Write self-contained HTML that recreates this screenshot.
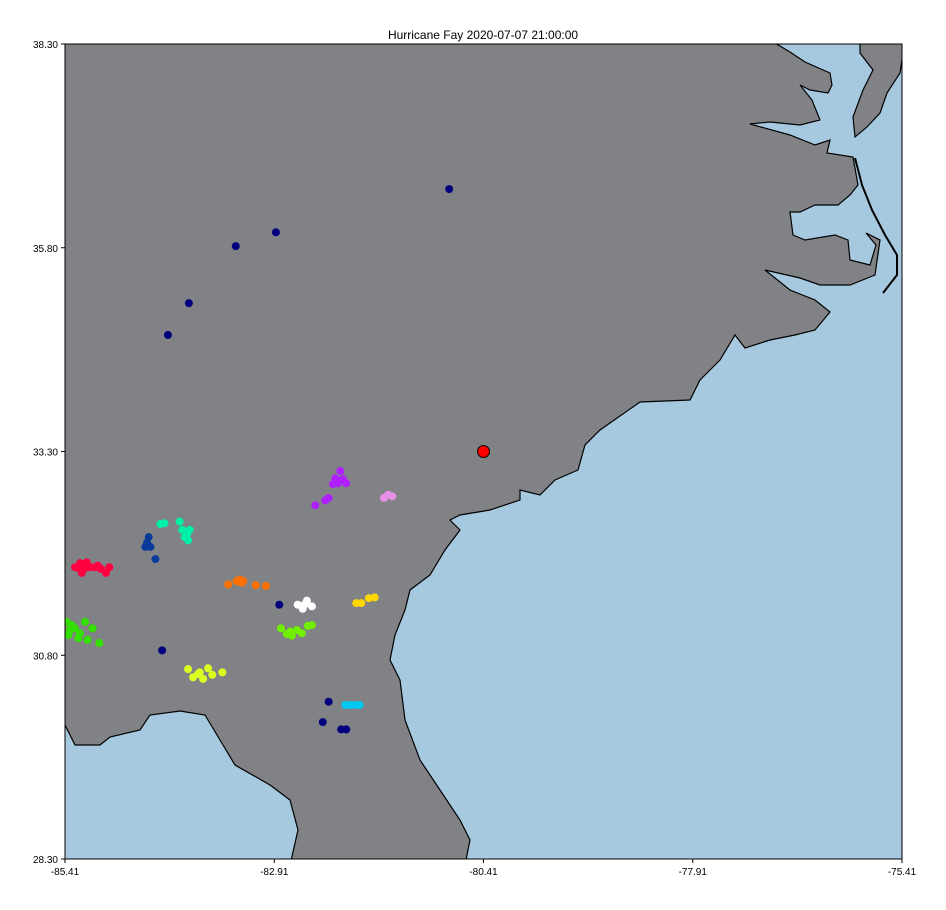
<!DOCTYPE html>
<html><head><meta charset="utf-8"><style>
body{margin:0;background:#fff;font-family:"Liberation Sans",sans-serif}
svg text{font-family:"Liberation Sans",sans-serif}
</style></head><body>
<svg id="c" width="946" height="905">
<defs><clipPath id="clip"><rect x="65" y="44" width="837" height="815"/></clipPath></defs>
<text x="483" y="39" text-anchor="middle" font-size="12">Hurricane Fay 2020-07-07 21:00:00</text>
<g clip-path="url(#clip)">
<rect x="65" y="44" width="837" height="815" fill="#a6c9df"/>
<path fill="#808285" stroke="#000" stroke-width="1.2" d="M60,40 L770,40 L790,52 L805,62 L830,73 L832,85 L828,93 L810,90 L800,85 L812,100 L820,120 L800,125 L770,122 L750,124 L790,135 L815,145 L830,140 L827,153 L853,157 L858,185 L850,195 L838,205 L815,205 L800,212 L790,212 L793,235 L805,240 L835,235 L848,240 L850,260 L870,265 L876,245 L866,233 L880,240 L875,275 L850,285 L820,285 L800,278 L765,270 L790,290 L815,300 L830,312 L815,330 L795,335 L770,340 L745,348 L735,335 L720,360 L700,380 L690,400 L640,402 L600,430 L585,445 L578,470 L555,480 L540,495 L520,490 L520,500 L490,510 L460,515 L450,520 L460,530 L445,550 L430,575 L410,590 L405,610 L395,635 L390,660 L400,680 L405,720 L420,760 L440,790 L460,820 L470,840 L465,865 L290,865 L298,830 L290,800 L270,785 L235,765 L220,740 L205,715 L180,711 L150,715 L140,730 L110,737 L100,745 L75,745 L65,725 L60,725 Z"/>
<path fill="#808285" stroke="#000" stroke-width="1.2" d="M860,40 L905,40 L900,73 L887,93 L880,113 L867,127 L855,137 L853,117 L863,90 L873,70 L860,53 Z"/>
<path fill="none" stroke="#000" stroke-width="2" d="M855,158 L862,185 L872,210 L885,235 L897,255 L897,275 L883,293"/>
<g id="pts"></g>
</g>
<rect x="65" y="44" width="837" height="815" fill="none" stroke="#000" stroke-width="1"/>
<g id="axes"></g>
</svg>
<script>
const xTicks=[-85.41,-82.91,-80.41,-77.91,-75.41];
const yTicks=[28.30,30.80,33.30,35.80,38.30];
const navyLon=[-80.82,-82.89,-83.37,-83.93,-84.18,-82.85,-84.25,-82.26,-82.33,-82.11,-82.05];
const navyLat=[36.52,35.99,35.82,35.12,34.73,31.42,30.86,30.23,29.98,29.89,29.89];
const redLon=[-85.29,-85.23,-85.21,-85.15,-85.17,-85.05,-85.02,-84.98,-84.92,-84.88,-85.25,-85.11];
const redLat=[31.88,31.93,31.81,31.94,31.87,31.88,31.90,31.86,31.81,31.88,31.87,31.88];
const greenLon=[-85.39,-85.35,-85.29,-85.23,-85.17,-85.08,-85.00,-85.37,-85.25,-85.14,-85.33];
const greenLat=[31.21,31.11,31.13,31.07,31.21,31.13,30.95,31.05,31.01,30.99,31.17];
const dblueLon=[-84.41,-84.45,-84.39,-84.43,-84.33];
const dblueLat=[32.25,32.13,32.13,32.18,31.98];
const aquaLon=[-84.27,-84.22,-84.04,-84.01,-83.95,-83.92,-83.94,-83.98];
const aquaLat=[32.41,32.42,32.44,32.34,32.29,32.34,32.21,32.25];
const orangeLon=[-83.46,-83.36,-83.32,-83.28,-83.13,-83.01,-83.30];
const orangeLat=[31.67,31.71,31.73,31.71,31.66,31.65,31.69];
const yelgLon=[-83.94,-83.88,-83.82,-83.76,-83.70,-83.65,-83.53,-83.80];
const yelgLat=[30.63,30.53,30.57,30.51,30.64,30.56,30.59,30.59];
const limeLon=[-82.83,-82.76,-82.70,-82.64,-82.58,-82.51,-82.46,-82.72];
const limeLat=[31.13,31.06,31.04,31.11,31.07,31.16,31.17,31.09];
const whiteLon=[-82.63,-82.57,-82.52,-82.46,-82.55];
const whiteLat=[31.42,31.37,31.47,31.40,31.42];
const yellowLon=[-81.93,-81.87,-81.78,-81.71];
const yellowLat=[31.44,31.44,31.50,31.51];
const cyanLon=[-82.06,-82.00,-81.94,-81.89];
const cyanLat=[30.19,30.19,30.19,30.19];
const purpleLon=[-82.42,-82.30,-82.26,-82.21,-82.18,-82.12,-82.09,-82.05,-82.15];
const purpleLat=[32.64,32.70,32.73,32.90,32.97,33.06,32.96,32.91,32.91];
const violetLon=[-81.60,-81.55,-81.50];
const violetLat=[32.73,32.77,32.75];
const stormLon=[-80.41];
const stormLat=[33.30];

const X=v=>65+(v+85.41)/10*837;
const Y=v=>859-(v-28.30)/10*815;
const NS="http://www.w3.org/2000/svg";
const pts=document.getElementById('pts');
const axes=document.getElementById('axes');
function mk(t,a){const e=document.createElementNS(NS,t);for(const k in a)e.setAttribute(k,a[k]);return e;}
function series(lons,lats,color,name){
  for(let i=0;i<lons.length;i++){
    const c=mk('circle',{cx:X(lons[i]),cy:Y(lats[i]),r:4,fill:color});
    
    
    pts.appendChild(c);
  }
}
series(navyLon,navyLat,'#00007f','navy-point');
series(redLon,redLat,'#ff0040','red-cluster-point');
series(greenLon,greenLat,'#33e000','green-cluster-point');
series(dblueLon,dblueLat,'#0a3a9a','darkblue-cluster-point');
series(aquaLon,aquaLat,'#00f0a8','aqua-cluster-point');
series(orangeLon,orangeLat,'#ff7000','orange-cluster-point');
series(yelgLon,yelgLat,'#d8ff20','yellowgreen-cluster-point');
series(limeLon,limeLat,'#70f000','lime-cluster-point');
series(whiteLon,whiteLat,'#ffffff','white-cluster-point');
series(yellowLon,yellowLat,'#ffd700','yellow-cluster-point');
series(cyanLon,cyanLat,'#00c8f0','cyan-cluster-point');
series(purpleLon,purpleLat,'#b020ff','purple-cluster-point');
series(violetLon,violetLat,'#e890e8','violet-cluster-point');
for(let i=0;i<stormLon.length;i++){
  const c=mk('circle',{cx:X(stormLon[i]),cy:Y(stormLat[i]),r:6,fill:'#ff0000',stroke:'#000','stroke-width':1});
  
  
  pts.appendChild(c);
}
xTicks.forEach(v=>{
  const l=mk('line',{x1:X(v),x2:X(v),y1:859,y2:863,stroke:'#000'});
  
  
  axes.appendChild(l);
  const t=mk('text',{x:X(v),y:875,'text-anchor':'middle','font-size':10});
  t.textContent=v.toFixed(2);
  
  
  axes.appendChild(t);
});
yTicks.forEach(v=>{
  const l=mk('line',{x1:61,x2:65,y1:Y(v),y2:Y(v),stroke:'#000'});
  
  
  axes.appendChild(l);
  const t=mk('text',{x:58,y:Y(v)+4,'text-anchor':'end','font-size':10});
  t.textContent=v.toFixed(2);
  
  
  axes.appendChild(t);
});
</script>
</body></html>
